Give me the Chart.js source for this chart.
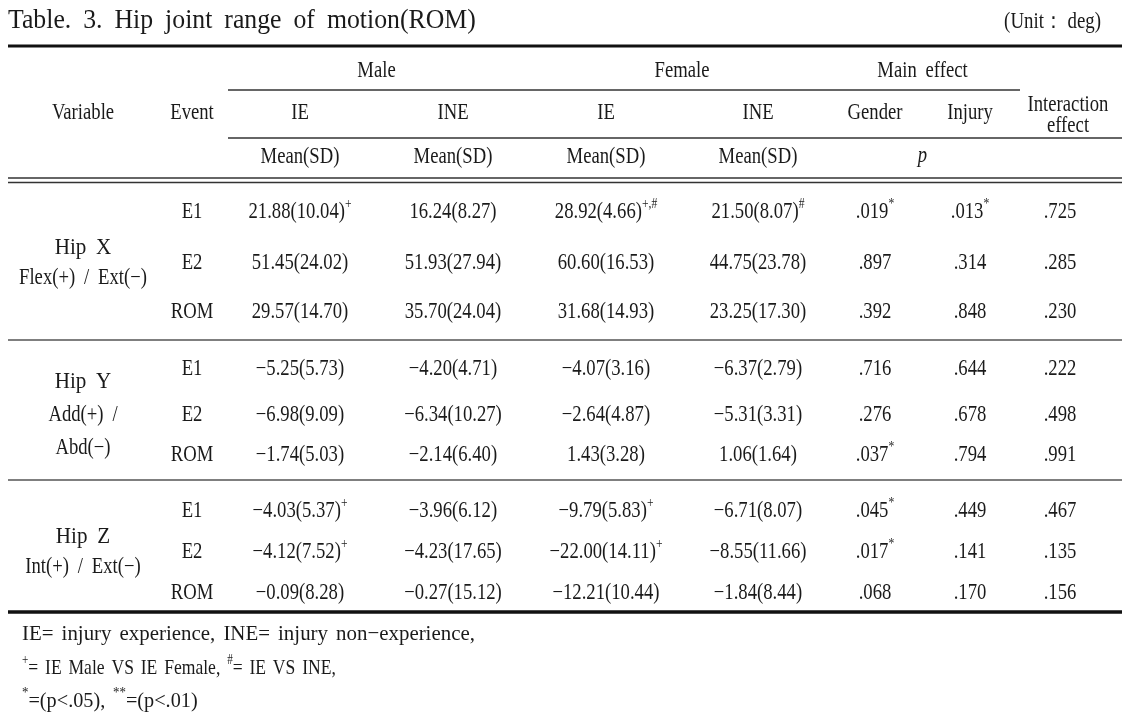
<!DOCTYPE html>
<html>
<head>
<meta charset="utf-8">
<script src="https://cdn.jsdelivr.net/npm/chart.js@4.4.1/dist/chart.umd.min.js"></script>
<style>
  html, body { margin: 0; padding: 0; background: #fff; }
  canvas { display: block; }
</style>
</head>
<body>
<canvas id="tableChart" width="1143" height="728"></canvas>
<script>
// TABLE DATA
const variables = [["Hip X", "Flex(+) / Ext(−)"], ["Hip Y", "Add(+) /", "Abd(−)"], ["Hip Z", "Int(+) / Ext(−)"]];
const events = ["E1", "E2", "ROM"];

const maleIEMean = [21.88, 51.45, 29.57, -5.25, -6.98, -1.74, -4.03, -4.12, -0.09];
const maleIESD = [10.04, 24.02, 14.70, 5.73, 9.09, 5.03, 5.37, 7.52, 8.28];
const maleIESup = ["+", "", "", "", "", "", "+", "+", ""];

const maleINEMean = [16.24, 51.93, 35.70, -4.20, -6.34, -2.14, -3.96, -4.23, -0.27];
const maleINESD = [8.27, 27.94, 24.04, 4.71, 10.27, 6.40, 6.12, 17.65, 15.12];
const maleINESup = ["", "", "", "", "", "", "", "", ""];

const femaleIEMean = [28.92, 60.60, 31.68, -4.07, -2.64, 1.43, -9.79, -22.00, -12.21];
const femaleIESD = [4.66, 16.53, 14.93, 3.16, 4.87, 3.28, 5.83, 14.11, 10.44];
const femaleIESup = ["+,#", "", "", "", "", "", "+", "+", ""];

const femaleINEMean = [21.50, 44.75, 23.25, -6.37, -5.31, 1.06, -6.71, -8.55, -1.84];
const femaleINESD = [8.07, 23.78, 17.30, 2.79, 3.31, 1.64, 8.07, 11.66, 8.44];
const femaleINESup = ["#", "", "", "", "", "", "", "", ""];

const genderP = [0.019, 0.897, 0.392, 0.716, 0.276, 0.037, 0.045, 0.017, 0.068];
const genderSup = ["*", "", "", "", "", "*", "*", "*", ""];
const injuryP = [0.013, 0.314, 0.848, 0.644, 0.678, 0.794, 0.449, 0.141, 0.170];
const injurySup = ["*", "", "", "", "", "", "", "", ""];
const interactionP = [0.725, 0.285, 0.230, 0.222, 0.498, 0.991, 0.467, 0.135, 0.156];

// LAYOUT (pixels)
const W = 1143, H = 728;
const colX = { variable: 83, event: 192, mIE: 300, mINE: 453, fIE: 606, fINE: 758, gender: 875, injury: 970, inter: 1060 };
const rowY = [212, 263, 312, 369, 415, 455, 511, 552, 593];
const FONT = '"Liberation Serif", "Times New Roman", serif';
const INK = "#1a1a1a";
const BODY = 22.5, SX = 0.83;

function fmtNum(v) {
  const s = Math.abs(v).toFixed(2);
  return (v < 0 ? "−" : "") + s;
}
function fmtP(v) {
  return v.toFixed(3).replace(/^0/, "");
}
function meanSD(means, sds, sups) {
  return means.map((m, i) => [{ t: fmtNum(m) + "(" + sds[i].toFixed(2) + ")" }, { t: sups[i], sup: true }]);
}
function pCells(ps, sups) {
  return ps.map((p, i) => [{ t: fmtP(p) }, { t: sups ? sups[i] : "", sup: true }]);
}

// draw a run of text parts (normal / superscript / italic), compressed horizontally
function drawRich(ctx, parts, x, y, align, size, sx) {
  size = size || BODY;
  sx = sx || SX;
  const fontOf = p => (p.italic ? "italic " : "") + (p.sup ? Math.round(size * 0.62) : size) + "px " + FONT;
  let total = 0;
  const widths = parts.map(p => {
    ctx.font = fontOf(p);
    const w = p.t ? ctx.measureText(p.t).width : 0;
    total += w;
    return w;
  });
  ctx.save();
  ctx.translate(x, y);
  ctx.scale(sx, 1);
  ctx.fillStyle = INK;
  ctx.textBaseline = "middle";
  ctx.textAlign = "left";
  let cx = align === "center" ? -total / 2 : align === "right" ? -total : 0;
  parts.forEach((p, i) => {
    if (!p.t) return;
    ctx.font = fontOf(p);
    ctx.fillText(p.t, cx, p.sup ? -size * 0.36 : 0);
    cx += widths[i];
  });
  ctx.restore();
}
function txt(ctx, s, x, y, align, size, sx) {
  drawRich(ctx, [{ t: s }], x, y, align, size, sx);
}

const columns = [
  { key: "mIE", cells: meanSD(maleIEMean, maleIESD, maleIESup) },
  { key: "mINE", cells: meanSD(maleINEMean, maleINESD, maleINESup) },
  { key: "fIE", cells: meanSD(femaleIEMean, femaleIESD, femaleIESup) },
  { key: "fINE", cells: meanSD(femaleINEMean, femaleINESD, femaleINESup) },
  { key: "gender", cells: pCells(genderP, genderSup) },
  { key: "injury", cells: pCells(injuryP, injurySup) },
  { key: "inter", cells: pCells(interactionP) },
  { key: "event", cells: rowY.map((_, i) => [{ t: events[i % 3] }]) }
];

const tablePlugin = {
  id: "tablePlugin",
  beforeDraw(chart) {
    const ctx = chart.ctx;
    ctx.save();
    ctx.fillStyle = "#fff";
    ctx.fillRect(0, 0, chart.width, chart.height);
    ctx.restore();
  },
  beforeDatasetsDraw(chart) {
    const ctx = chart.ctx;
    const xs = chart.scales.x, ys = chart.scales.y;
    const px = v => xs.getPixelForValue(v), py = v => ys.getPixelForValue(v);
    const rule = (y, x0, x1, w, c) => {
      ctx.save();
      ctx.strokeStyle = c || "#222";
      ctx.lineWidth = w;
      ctx.beginPath();
      ctx.moveTo(px(x0), py(y));
      ctx.lineTo(px(x1), py(y));
      ctx.stroke();
      ctx.restore();
    };
    rule(46, 8, 1122, 3.2, "#111");
    rule(90, 228, 1020, 1.3, "#333");
    rule(138, 228, 1122, 1.3, "#333");
    rule(178, 8, 1122, 1.5, "#333");
    rule(182.5, 8, 1122, 1.5, "#333");
    rule(340, 8, 1122, 1.6, "#555");
    rule(480, 8, 1122, 1.6, "#555");
    rule(612, 8, 1122, 3.6, "#111");

    // title & header text
    ctx.save();
    ctx.wordSpacing = "6px";
    txt(ctx, "Table. 3. Hip joint range of motion(ROM)", px(8), py(21), "left", 28, 0.92);
    ctx.restore();
    txt(ctx, "(Unit： deg)", px(1101), py(22), "right", 23, 0.82);

    txt(ctx, "Male", px((colX.mIE + colX.mINE) / 2), py(71), "center");
    txt(ctx, "Female", px((colX.fIE + colX.fINE) / 2), py(71), "center");
    ctx.save(); ctx.wordSpacing = "5px";
    txt(ctx, "Main effect", px((colX.gender + colX.injury) / 2), py(71), "center");
    ctx.restore();
    txt(ctx, "Interaction", px(colX.inter + 8), py(105), "center");
    txt(ctx, "effect", px(colX.inter + 8), py(126), "center");
    txt(ctx, "Variable", px(colX.variable), py(113), "center");
    txt(ctx, "Event", px(colX.event), py(113), "center");
    ["mIE", "fIE"].forEach(k => txt(ctx, "IE", px(colX[k]), py(113), "center"));
    ["mINE", "fINE"].forEach(k => txt(ctx, "INE", px(colX[k]), py(113), "center"));
    txt(ctx, "Gender", px(colX.gender), py(113), "center");
    txt(ctx, "Injury", px(colX.injury), py(113), "center");
    ["mIE", "mINE", "fIE", "fINE"].forEach(k => txt(ctx, "Mean(SD)", px(colX[k]), py(157), "center"));
    drawRich(ctx, [{ t: "p", italic: true }], px((colX.gender + colX.injury) / 2), py(156), "center");

    // variable labels, centred on the middle event row of each group
    variables.forEach((lines, g) => {
      const mid = rowY[g * 3 + 1];
      const gap = lines.length === 3 ? 33 : 30;
      lines.forEach((l, j) => {
        ctx.save(); ctx.wordSpacing = "5px";
        txt(ctx, l, px(colX.variable), py(mid + (j - (lines.length - 1) / 2) * gap), "center", j === 0 ? 24 : BODY, j === 0 ? 0.88 : SX);
        ctx.restore();
      });
    });

    // footnotes
    ctx.save(); ctx.wordSpacing = "3px";
    txt(ctx, "IE= injury experience, INE= injury non−experience,", px(22), py(634), "left", 22, 0.95);
    drawRich(ctx, [{ t: "+", sup: true }, { t: "= IE Male VS IE Female, " }, { t: "#", sup: true }, { t: "= IE VS INE," }], px(22), py(668), "left", 22, 0.8);
    drawRich(ctx, [{ t: "*", sup: true }, { t: "=(p<.05), " }, { t: "**", sup: true }, { t: "=(p<.01)" }], px(22), py(701), "left", 22, 0.92);
    ctx.restore();
  },
  afterDatasetsDraw(chart) {
    const ctx = chart.ctx;
    chart.data.datasets.forEach((ds, di) => {
      chart.getDatasetMeta(di).data.forEach((el, i) => {
        drawRich(ctx, ds.cells[i], el.x, el.y, "center");
      });
    });
  }
};

new Chart("tableChart", {
  type: "scatter",
  data: {
    datasets: columns.map(c => ({
      label: c.key,
      data: rowY.map(y => ({ x: colX[c.key], y: y })),
      cells: c.cells,
      pointRadius: 0,
      pointHoverRadius: 0
    }))
  },
  options: {
    responsive: false,
    animation: false,
    events: [],
    layout: { padding: 0 },
    plugins: { legend: { display: false }, tooltip: { enabled: false } },
    scales: {
      x: { type: "linear", display: false, min: 0, max: W },
      y: { type: "linear", display: false, min: 0, max: H, reverse: true }
    }
  },
  plugins: [tablePlugin]
});
</script>
</body>
</html>
